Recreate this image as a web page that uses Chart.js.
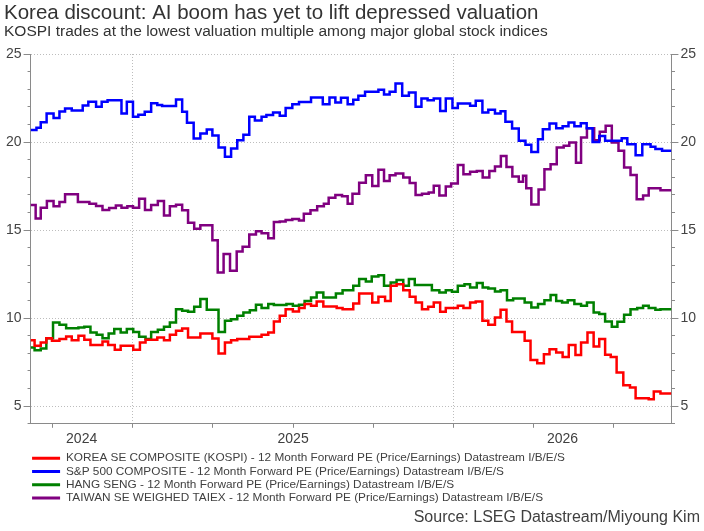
<!DOCTYPE html>
<html>
<head>
<meta charset="utf-8">
<title>Korea discount</title>
<script src="https://cdn.jsdelivr.net/npm/chart.js@4.4.1/dist/chart.umd.min.js"></script>
<style>
  html, body { margin: 0; padding: 0; background: #fff; }
  #wrap { position: relative; width: 704px; height: 531px; }
  #source {
    position: absolute; right: 4px; top: 508px;
    font: 16px "Liberation Sans", Arial, sans-serif; line-height: 18px; color: #404040;
  }
</style>
</head>
<body>
<div id="wrap">
  <canvas id="chart" width="704" height="531"></canvas>
  <div id="source">Source: LSEG Datastream/Miyoung Kim</div>
</div>
<script>
// 12-month forward PE, weekly steps. x = months since start of the "2025" segment
const X_MIN = -3.82, X_MAX = 20.15;
const quarterTicks = [-3, 0, 3, 6, 9, 12, 15, 18];
const yearStarts = [0, 12];
const yearLabels = ['2024', '2025', '2026'];
const yMajor = [5, 10, 15, 20, 25];

const kospiT = [-3.82, -3.67, -3.44, -3.23, -3.02, -2.74, -2.49, -2.28, -2.03, -1.81, -1.58, -1.13, -0.92, -0.67, -0.45,
  0.02, 0.27, 0.48, 0.92, 1.17, 1.39, 1.62, 1.85, 2.07, 2.53, 2.98, 3.21, 3.45, 3.68, 3.91, 4.36, 4.82, 5.07, 5.28,
  5.50, 5.72, 5.99, 6.22, 6.43, 6.67, 6.88, 7.13, 7.63, 7.85, 8.25, 8.47, 8.96, 9.19, 9.44, 9.65, 9.87, 10.12, 10.36,
  10.58, 10.82, 11.05, 11.26, 11.50, 11.71, 12.16, 12.37, 12.62, 12.83, 13.08, 13.30, 13.55, 13.76, 13.98, 14.19,
  14.66, 14.88, 15.13, 15.38, 15.59, 15.84, 16.08, 16.31, 16.56, 16.77, 17.01, 17.24, 17.45, 17.67, 17.88, 18.10,
  18.35, 18.60, 18.81, 19.30, 19.49, 19.74, 20.15];
const kospiPE = [8.75, 8.43, 8.62, 8.86, 8.71, 8.81, 8.96, 8.75, 9.00, 8.77, 8.48, 8.67, 8.47, 8.20, 8.43,
  8.20, 8.62, 8.77, 8.90, 8.75, 9.05, 9.28, 9.41, 8.90, 9.13, 8.84, 7.99, 8.62, 8.75, 8.81, 8.94, 9.05, 9.19, 9.81,
  10.13, 10.51, 10.38, 10.57, 10.80, 10.70, 10.95, 10.66, 10.57, 10.51, 10.83, 11.40, 10.89, 11.21, 10.98, 11.84, 11.93, 11.59, 11.21,
  10.89, 10.51, 10.64, 10.89, 10.36, 10.57, 10.70, 10.57, 10.89, 10.95, 9.85, 9.62, 10.04, 10.47, 9.81, 9.22,
  8.71, 7.63, 7.44, 7.95, 8.24, 8.05, 7.80, 8.47, 7.90, 8.62, 9.19, 8.39, 8.81, 7.92, 7.80, 6.91,
  6.19, 6.06, 5.45, 5.40, 5.83, 5.72, 5.72];

const spxT = [-3.82, -3.60, -3.44, -3.22, -2.96, -2.74, -2.53, -2.28, -1.87, -1.66, -1.37, -1.16, -0.94, -0.42, -0.22,
  0.01, 0.21, 0.45, 0.69, 0.92, 1.10, 1.62, 1.85, 2.03, 2.28, 2.53, 2.77, 2.98, 3.21, 3.45, 3.68, 3.91, 4.14, 4.36,
  4.57, 4.82, 5.00, 5.25, 5.50, 5.72, 5.97, 6.22, 6.67, 7.11, 7.36, 7.58, 7.79, 8.04, 8.25, 8.44, 8.69, 9.19, 9.40,
  9.61, 9.83, 10.08, 10.33, 10.58, 10.80, 11.03, 11.26, 11.50, 11.71, 11.96, 12.16, 12.62, 12.83, 13.08, 13.30,
  13.55, 13.76, 13.94, 14.19, 14.44, 14.69, 14.91, 15.16, 15.34, 15.59, 15.84, 16.08, 16.30, 16.52, 16.76, 16.98,
  17.20, 17.45, 17.67, 18.29, 18.50, 18.81, 19.06, 19.37, 19.55, 19.80, 20.15];
const spxPE = [20.69, 20.81, 21.13, 21.62, 21.36, 21.74, 21.91, 21.79, 22.08, 22.29, 22.00, 22.29, 22.38, 21.62, 22.29,
  21.43, 21.55, 21.72, 22.21, 22.10, 22.04, 22.42, 21.72, 21.09, 20.20, 20.48, 20.71, 20.37, 19.69, 19.16, 19.63, 20.10, 20.41, 21.43,
  21.22, 21.43, 21.53, 21.68, 21.49, 21.93, 22.15, 22.27, 22.53, 22.15, 22.53, 22.25, 22.51, 22.15, 22.40, 22.63, 22.86, 22.97, 22.70,
  22.86, 23.33, 22.63, 22.82, 22.00, 22.48, 22.38, 22.48, 21.77, 22.48, 21.93, 22.19, 22.06, 22.34, 21.68, 21.83,
  21.62, 21.75, 21.15, 20.77, 20.07, 19.84, 19.44, 20.16, 20.73, 21.05, 20.79, 20.90, 21.11, 20.90, 21.07, 20.79,
  20.00, 20.35, 20.07, 20.22, 19.88, 19.25, 19.88, 19.74, 19.61, 19.50, 19.50];

const hsiT = [-3.82, -3.67, -3.44, -3.23, -2.98, -2.74, -2.49, -2.03, -1.81, -1.58, -1.35, -1.13, -0.90, -0.69, -0.45,
  -0.22, 0.02, 0.24, 0.48, 0.69, 0.94, 1.17, 1.39, 1.62, 1.85, 2.07, 2.30, 2.53, 2.77, 3.21, 3.45, 3.68, 3.91, 4.14,
  4.38, 4.61, 4.82, 5.07, 5.28, 5.75, 5.99, 6.22, 6.43, 6.67, 6.88, 7.13, 7.60, 7.85, 8.25, 8.47, 8.72, 8.94, 9.19,
  9.40, 9.65, 9.87, 10.12, 10.33, 10.55, 11.19, 11.47, 11.71, 11.94, 12.16, 12.41, 12.62, 12.87, 13.09, 13.30, 13.55,
  13.76, 14.00, 14.23, 14.66, 14.91, 15.16, 15.40, 15.63, 15.84, 16.06, 16.27, 16.52, 16.77, 16.99, 17.24, 17.45,
  17.67, 17.92, 18.13, 18.38, 18.62, 18.87, 19.09, 19.30, 19.55, 19.74, 20.15];
const hsiPE = [8.33, 8.18, 8.28, 8.86, 9.75, 9.62, 9.43, 9.47, 9.51, 9.19, 9.05, 8.86, 9.13, 9.38, 9.19,
  9.38, 9.22, 8.94, 8.81, 9.22, 9.34, 9.51, 9.75, 10.51, 10.42, 10.36, 10.64, 11.08, 10.47, 9.22, 9.85, 9.94, 10.13, 10.32,
  10.45, 10.76, 10.57, 10.80, 10.74, 10.80, 10.70, 10.76, 10.98, 11.17, 11.46, 11.17, 11.40, 11.59, 11.84, 12.22, 12.08, 12.37, 12.44,
  11.84, 12.03, 12.16, 11.84, 12.22, 11.88, 11.59, 11.46, 11.59, 11.50, 11.84, 11.93, 11.74, 11.99, 11.74, 11.69, 11.52,
  11.59, 11.02, 11.12, 10.89, 10.61, 10.80, 11.02, 11.31, 10.98, 10.89, 11.02, 10.80, 10.70, 10.89, 10.32, 10.23,
  9.81, 9.51, 9.79, 10.19, 10.51, 10.57, 10.70, 10.57, 10.47, 10.51, 10.51];

const taiexT = [-3.82, -3.63, -3.44, -3.21, -2.96, -2.74, -2.53, -2.05, -1.62, -1.37, -1.13, -0.88, -0.63, -0.42, -0.20,
  0.01, 0.24, 0.46, 0.69, 0.94, 1.17, 1.39, 1.62, 1.85, 2.07, 2.30, 2.53, 2.98, 3.18, 3.40, 3.64, 3.89, 4.11, 4.36,
  4.61, 4.82, 5.07, 5.28, 5.50, 5.72, 5.97, 6.22, 6.40, 6.65, 6.90, 7.15, 7.33, 7.58, 7.83, 8.04, 8.22, 8.47, 8.72,
  8.96, 9.19, 9.40, 9.61, 9.83, 10.12, 10.36, 10.58, 10.82, 11.07, 11.26, 11.47, 11.71, 11.91, 12.16, 12.37, 12.62,
  12.87, 13.09, 13.34, 13.55, 13.77, 13.98, 14.20, 14.44, 14.60, 14.72, 14.91, 15.18, 15.40, 15.63, 15.86, 16.12,
  16.33, 16.58, 16.77, 16.99, 17.26, 17.47, 17.69, 17.92, 18.17, 18.38, 18.62, 18.85, 19.09, 19.30, 19.74, 20.15];
const taiexPE = [16.42, 15.66, 16.27, 16.65, 16.35, 16.59, 17.03, 16.59, 16.50, 16.37, 16.14, 16.25, 16.39, 16.27, 16.35,
  16.27, 16.78, 16.14, 16.42, 16.65, 15.83, 16.35, 16.44, 16.12, 15.42, 15.08, 15.28, 14.43, 12.59, 13.64, 12.69, 13.79, 14.05, 14.75,
  14.93, 14.82, 14.54, 15.46, 15.49, 15.57, 15.63, 15.55, 15.93, 16.12, 16.35, 16.50, 16.84, 16.99, 16.92, 16.50, 17.07, 17.69, 18.11,
  17.50, 18.42, 17.79, 18.11, 18.21, 17.98, 17.68, 16.99, 17.07, 17.14, 17.52, 16.97, 17.47, 17.64, 18.70, 18.17, 18.32,
  18.36, 17.98, 18.36, 18.61, 19.21, 18.59, 18.04, 17.75, 18.09, 17.37, 16.46, 17.31, 18.46, 18.74, 19.69, 19.79,
  19.97, 18.83, 20.26, 20.79, 20.10, 20.58, 20.92, 19.97, 19.50, 18.55, 18.13, 16.75, 16.97, 17.37, 17.26, 17.26];

const SUFFIX = ' - 12 Month Forward PE (Price/Earnings) Datastream I/B/E/S';
const FONT = '"Liberation Sans", Arial, sans-serif';
const AXIS_GREY = '#8a8a8a';
const GRID_GREY = '#bdbdbd';

function pts(xs, ys) {
  return xs.map((x, i) => ({ x: x, y: ys[i] }));
}

function series(label, xs, ys, color) {
  return {
    label: label,
    data: pts(xs, ys),
    borderColor: color,
    backgroundColor: color,
    borderWidth: 2.5,
    pointRadius: 0,
    stepped: true,
    xAxisID: 'x',
    yAxisID: 'y'
  };
}

Chart.defaults.font.family = FONT;
Chart.defaults.color = '#404040';

const isMajor = ctx => ctx.tick && yMajor.includes(ctx.tick.value);

function yAxis(position) {
  return {
    type: 'linear',
    position: position,
    min: 4,
    max: 25,
    ticks: {
      stepSize: 1,
      autoSkip: false,
      padding: 2,
      font: { size: 14 },
      color: '#444',
      callback: v => (yMajor.includes(v) ? String(v) : '')
    },
    grid: {
      drawOnChartArea: position === 'left',
      color: ctx => (isMajor(ctx) ? GRID_GREY : 'rgba(0,0,0,0)'),
      tickColor: AXIS_GREY,
      tickLength: 7,
      // minor ticks: only a short stub next to the axis line
      tickBorderDash: ctx => (isMajor(ctx) ? [] : (position === 'left' ? [0, 4, 3, 50] : [3, 50]))
    },
    border: { color: AXIS_GREY, width: 1, dash: [1, 2] }
  };
}

new Chart(document.getElementById('chart'), {
  type: 'line',
  data: {
    datasets: [
      series('KOREA SE COMPOSITE (KOSPI)' + SUFFIX, kospiT, kospiPE, '#ff0000'),
      series('S&P 500 COMPOSITE' + SUFFIX, spxT, spxPE, '#0000ff'),
      series('HANG SENG' + SUFFIX, hsiT, hsiPE, '#008000'),
      series('TAIWAN SE WEIGHED TAIEX' + SUFFIX, taiexT, taiexPE, '#800080')
    ]
  },
  options: {
    responsive: false,
    animation: false,
    events: [],
    layout: { padding: { left: 4, right: 6, top: 0, bottom: 17 } },
    plugins: {
      title: {
        display: true,
        text: 'Korea discount: AI boom has yet to lift depressed valuation',
        align: 'start',
        color: '#333',
        font: { size: 20.5, weight: 'normal', lineHeight: 1.0 },
        padding: { top: 3, bottom: 0 }
      },
      subtitle: {
        display: true,
        text: 'KOSPI trades at the lowest valuation multiple among major global stock indices',
        align: 'start',
        color: '#333',
        font: { size: 15.5, weight: 'normal', lineHeight: 1.0 },
        padding: { top: 0, bottom: 15 }
      },
      legend: {
        position: 'bottom',
        align: 'start',
        fullSize: false,
        labels: {
          boxWidth: 28,
          boxHeight: 3,
          padding: 1.5,
          color: '#404040',
          font: { size: 11.8 },
          generateLabels: chart => chart.data.datasets.map((d, i) => ({
            text: d.label,
            fillStyle: d.borderColor,
            strokeStyle: d.borderColor,
            lineWidth: 0,
            hidden: false,
            datasetIndex: i,
            fontColor: '#404040'
          }))
        }
      },
      tooltip: { enabled: false }
    },
    scales: {
      x: {
        type: 'linear',
        position: 'bottom',
        weight: 0,
        min: X_MIN,
        max: X_MAX,
        afterBuildTicks: s => { s.ticks = quarterTicks.map(v => ({ value: v })); },
        ticks: { display: false },
        grid: {
          color: ctx => (ctx.tick && yearStarts.includes(ctx.tick.value) ? GRID_GREY : 'rgba(0,0,0,0)'),
          tickColor: AXIS_GREY,
          tickLength: 4,
          tickBorderDash: []
        },
        border: { color: AXIS_GREY, width: 1, dash: [1, 2] }
      },
      xYears: {
        type: 'linear',
        position: 'bottom',
        weight: 1,
        min: X_MIN,
        max: X_MAX,
        // one label centred in each calendar year segment
        afterBuildTicks: s => {
          s.ticks = [(X_MIN + yearStarts[0]) / 2, yearStarts[0] + 6, (yearStarts[1] + X_MAX) / 2].map(v => ({ value: v }));
        },
        ticks: {
          autoSkip: false,
          maxRotation: 0,
          padding: -1.4,
          color: '#404040',
          font: { size: 14, lineHeight: 1.843 },
          callback: (v, i) => yearLabels[i]
        },
        grid: { display: false, drawTicks: false },
        border: { display: false }
      },
      y: yAxis('left'),
      yRight: yAxis('right')
    }
  }
});
</script>
</body>
</html>
